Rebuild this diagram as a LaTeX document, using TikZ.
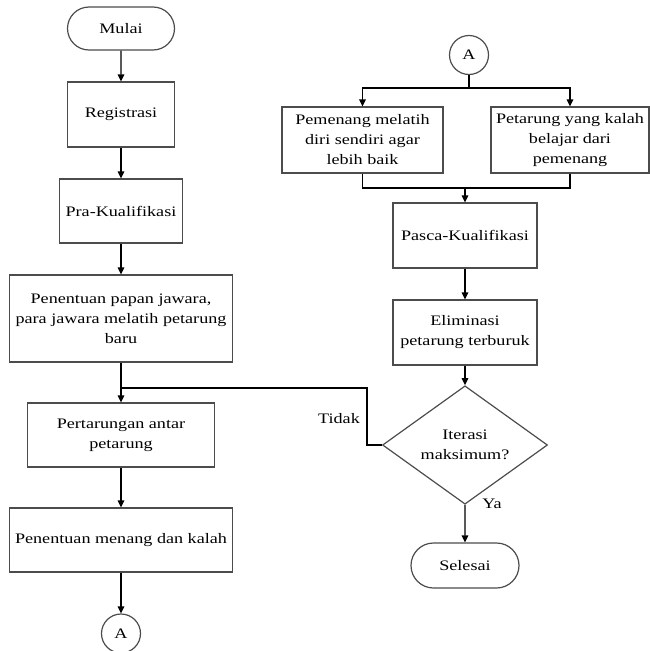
\documentclass[tikz,border=0pt]{standalone}
\usepackage{fontspec}
\setmainfont{Liberation Serif}[FakeStretch=1.25]
\usetikzlibrary{arrows.meta,shapes.geometric,shapes.misc}
\begin{document}
\begin{tikzpicture}[x=1pt, y=-1pt, >={Triangle[length=7pt,width=6.5pt]},
  every node/.style={font=\fontsize{14.5}{20}\selectfont, align=center, inner sep=0pt, text=black},
  kotak/.style={draw=black!70, line width=1.2pt, rectangle},
  terminal/.style={draw=black!70, line width=1.2pt, rounded rectangle},
  konektor/.style={draw=black!70, line width=1.2pt, circle, minimum size=39pt},
  keputusan/.style={draw=black!70, line width=1.2pt, diamond},
  panah/.style={->, line width=1.3pt, black}]

\useasboundingbox (0,0) rectangle (650,651);

% kolom kiri
\node[terminal, minimum width=107pt, minimum height=43pt] (mulai) at (121,28.5) {Mulai};
\node[kotak, minimum width=107pt, minimum height=65pt] (reg) at (121,114.5) {Registrasi};
\node[kotak, minimum width=123pt, minimum height=64pt] (pra) at (121,211) {Pra-Kualifikasi};
\node[kotak, minimum width=223pt, minimum height=87pt] (papan) at (121,318.5)
  {Penentuan papan jawara,\\para jawara melatih petarung\\baru};
\node[kotak, minimum width=187pt, minimum height=64pt] (tarung) at (121,435) {Pertarungan antar\\petarung};
\node[kotak, minimum width=223pt, minimum height=64pt] (menang) at (121,540) {Penentuan menang dan kalah};
\node[konektor] (a1) at (121,633.5) {A};

\draw[panah] (mulai) -- (reg);
\draw[panah] (reg) -- (pra);
\draw[panah] (pra) -- (papan);
\draw[panah] (papan) -- (tarung);
\draw[panah] (tarung) -- (menang);
\draw[panah] (menang) -- (a1);

% kolom kanan
\node[konektor] (a2) at (469,55) {A};
\node[kotak, minimum width=161pt, minimum height=66pt] (pem) at (362.5,140)
  {Pemenang melatih\\diri sendiri agar\\lebih baik};
\node[kotak, minimum width=158pt, minimum height=66pt] (pet) at (570,140)
  {Petarung yang kalah\\belajar dari\\pemenang};
\node[kotak, minimum width=144pt, minimum height=65pt] (pasca) at (465,235.5) {Pasca-Kualifikasi};
\node[kotak, minimum width=144pt, minimum height=65pt] (elim) at (465,332.5) {Eliminasi\\petarung terburuk};
\node[keputusan, minimum width=165pt, minimum height=95pt] (iter) at (465,445) {Iterasi\\maksimum?};
\node[terminal, minimum width=108pt, minimum height=45pt] (selesai) at (465,565.5) {Selesai};

% percabangan dari A
\coordinate (bagi) at (469,88);
\draw[line width=1.3pt] (a2) -- (bagi);
\draw[panah] (bagi) -| (pem.north);
\draw[panah] (bagi) -| (pet.north);

% penggabungan ke Pasca-Kualifikasi
\coordinate (gabung) at (465,188);
\draw[line width=1.3pt] (pem.south) |- (gabung);
\draw[line width=1.3pt] (pet.south) |- (gabung);
\draw[panah] (gabung) -- (pasca);

\draw[panah] (pasca) -- (elim);
\draw[panah] (elim) -- (iter);
\draw[panah] (iter) -- (selesai);
\node (ya) at (492,504) {Ya};

% kembali ke pertarungan
\coordinate (balik) at (367,388);
\draw[line width=1.3pt] (iter.west) -| (balik) -- (balik -| tarung.north);
\node (tidak) at (339,419) {Tidak};

\end{tikzpicture}
\end{document}
